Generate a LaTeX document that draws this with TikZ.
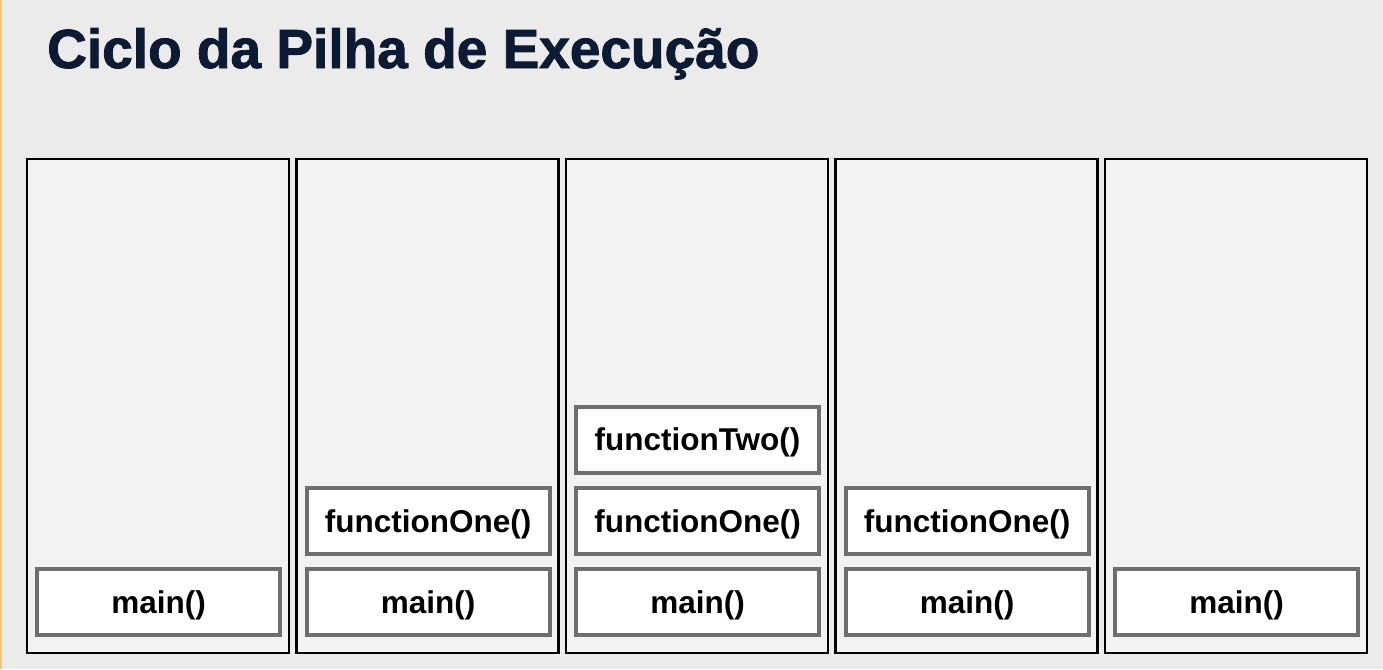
\documentclass[tikz,border=0pt]{standalone}
\usepackage{fontspec}
\setmainfont{Liberation Sans}
\newfontfamily\titlefont{Liberation Sans}[BoldFeatures={FakeBold=1.6}]
\definecolor{bg}{HTML}{EBEBEB}
\definecolor{colfill}{HTML}{F2F2F2}
\definecolor{boxline}{HTML}{6E6E6E}
\definecolor{titlecol}{HTML}{0D1A33}
\definecolor{accent}{HTML}{F0C878}
\begin{document}
\begin{tikzpicture}[x=1pt,y=-1pt,
  column/.style={draw=black, line width=2.5pt, fill=colfill, minimum width=262pt, minimum height=494pt, inner sep=0pt, outer sep=0pt},
  frame/.style={draw=boxline, line width=4pt, fill=white, minimum width=243pt, minimum height=66pt, inner sep=0pt, outer sep=0pt, font=\fontsize{31.5}{34}\selectfont\bfseries, text=black, text height=22pt, text depth=0pt},
]
\path[use as bounding box, fill=bg] (0,0) rectangle (1383,669);
\fill[accent] (0,0) rectangle (2,669);
\node[anchor=base west, text=titlecol, inner sep=0pt, font=\fontsize{55}{60}\selectfont\titlefont\bfseries] (title) at (47,68) {Ciclo da Pilha de Execução};
\foreach \i in {0,...,4} {
  \node[column] (c\i) at (158+269.5*\i, 406) {};
  \node[frame] (m\i) at (158.5+269.5*\i, 602) {main()};
}
\node[frame] (f1) at (158.5+269.5*1, 521) {functionOne()};
\node[frame] (f2) at (158.5+269.5*2, 521) {functionOne()};
\node[frame] (g2) at (158.5+269.5*2, 439.5) {functionTwo()};
\node[frame] (f3) at (158.5+269.5*3, 521) {functionOne()};
\end{tikzpicture}
\end{document}
